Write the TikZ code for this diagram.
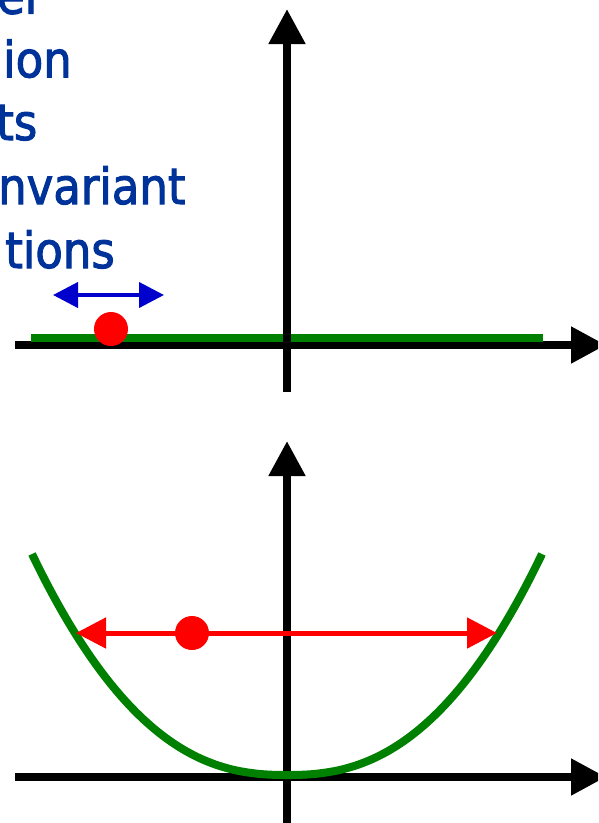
\documentclass[tikz,border=0pt]{standalone}
\usepackage{fontspec}
\setmainfont{DejaVu Sans Condensed}
\newfontfamily\lblfont{DejaVu Sans Condensed}[FakeBold=2]
\usetikzlibrary{arrows.meta}
\definecolor{txtblue}{RGB}{0,51,153}
\definecolor{arrblue}{RGB}{0,0,204}
\definecolor{curvegreen}{RGB}{0,128,0}
\definecolor{dotred}{RGB}{255,0,0}
\tikzset{
  axis/.style={line width=8pt, draw=black, -{Triangle[length=35pt,width=35pt]}},
  flatline/.style={line width=8pt, draw=curvegreen},
  bluearrow/.style={line width=4pt, draw=arrblue, {Triangle[length=25pt,width=25pt]}-{Triangle[length=25pt,width=25pt]}},
  redarrow/.style={line width=5pt, draw=dotred, {Triangle[length=30pt,width=30pt]}-{Triangle[length=30pt,width=30pt]}},
  ball/.style={circle, fill=dotred, inner sep=0pt, minimum size=34pt},
  label/.style={anchor=base west, inner sep=0pt, text=txtblue, font=\lblfont\fontsize{50}{60}\selectfont}
}
\begin{document}
\begin{tikzpicture}[x=1pt,y=-1pt]
\useasboundingbox (0,0) rectangle (598,823);
\clip (0,0) rectangle (598,823);
% text
\node[label] (t1) at (-3,13.7) {er};
\node[label] (t2) at (3,77.3) {ion};
\node[label] (t3) at (-4,140) {ts};
\node[label] (t4) at (-2,204) {nvariant};
\node[label] (t5) at (5,268) {tions};
% top panel
\coordinate (hx1) at (15,345);
\coordinate (hx2) at (606,345);
\coordinate (vy1) at (287,392);
\coordinate (vy2) at (287,9);
\coordinate (g1) at (31,338);
\coordinate (g2) at (543,338);
\draw[axis] (hx1) -- (hx2);
\draw[flatline] (g1) -- (g2);
\draw[axis] (vy1) -- (vy2);
\coordinate (b1) at (53,295);
\coordinate (b2) at (164,295);
\draw[bluearrow] (b1) -- (b2);
\node[ball] (ball1) at (111,329) {};
% bottom panel
\coordinate (hX1) at (15,777);
\coordinate (hX2) at (606,777);
\coordinate (vY1) at (287,830);
\coordinate (vY2) at (287,441);
\draw[axis] (hX1) -- (hX2);
\draw[axis] (vY1) -- (vY2);
\draw[line width=8pt, draw=curvegreen, domain=-255:255, samples=121, smooth, variable=\t]
  plot ({287+\t},{775-221*pow(abs(\t)/255,2.4)});
\coordinate (r1) at (76,633);
\coordinate (r2) at (497,633);
\draw[redarrow] (r1) -- (r2);
\node[ball] (ball2) at (192,633) {};
\end{tikzpicture}
\end{document}
